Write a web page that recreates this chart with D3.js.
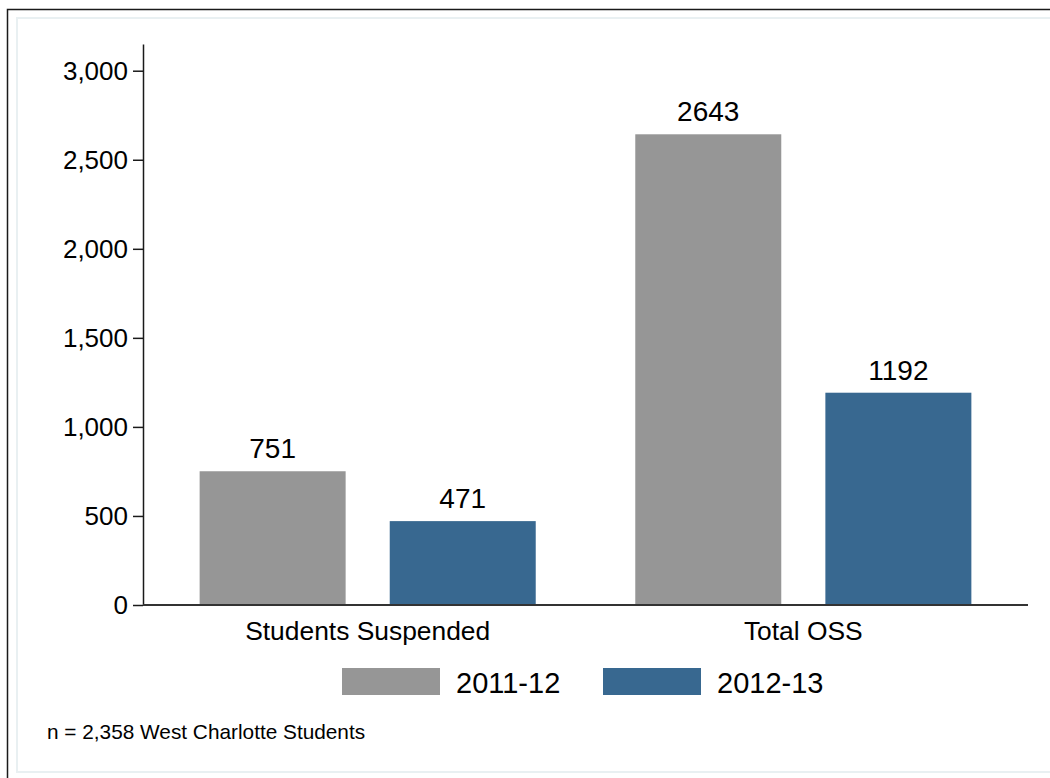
<!DOCTYPE html>
<html>
<head>
<meta charset="utf-8">
<script src="https://cdn.jsdelivr.net/npm/d3@7"></script>
<style>
  body { margin: 0; background: #fff; }
  text { font-family: "Liberation Sans", Arial, sans-serif; fill: #000; }
</style>
</head>
<body>
<div id="chart"></div>
<script>
// data
var categories = ['Students Suspended', 'Total OSS'];
var years = ['2011-12', '2012-13'];
var values2011 = [751, 2643];
var values2012 = [471, 1192];
var yTicks = [0, 500, 1000, 1500, 2000, 2500, 3000];
var note = 'n = 2,358 West Charlotte Students';

var colors = ['#969696', '#386890'];

var svgWidth = 1050, svgHeight = 778;

var svg = d3.select('#chart').append('svg')
    .attr('width', svgWidth)
    .attr('height', svgHeight);

// frame borders
svg.append('rect')
    .attr('x', 7.5).attr('y', 9.5)
    .attr('width', 1100).attr('height', 800)
    .attr('fill', 'none')
    .attr('stroke', '#1a1a1a')
    .attr('stroke-width', 1.5);

svg.append('rect')
    .attr('x', 17).attr('y', 18)
    .attr('width', 1100).attr('height', 754)
    .attr('fill', 'none')
    .attr('stroke', '#e9f0f2')
    .attr('stroke-width', 2);

// chart area
var plotLeft = 143, plotRight = 1028, plotTop = 44, plotBottom = 605;

var rows = categories.map(function (c, i) {
    return { cat: c, vals: [values2011[i], values2012[i]] };
});

var x0 = d3.scaleBand()
    .domain(categories)
    .range([plotLeft, plotRight])
    .paddingInner(0.2285)
    .paddingOuter(0.13);

var x1 = d3.scaleBand()
    .domain(years)
    .range([0, x0.bandwidth()])
    .paddingInner(0.232)
    .paddingOuter(0);

var y = d3.scaleLinear()
    .domain([0, 3150])
    .range([plotBottom, plotTop]);

// bars
var groups = svg.selectAll('.grp')
    .data(rows)
    .enter()
    .append('g')
    .attr('class', 'grp')
    .attr('transform', d => `translate(${x0(d.cat)}, 0)`);

groups.selectAll('rect')
    .data(d => d.vals.map((v, j) => ({ year: years[j], v: v, j: j })))
    .enter()
    .append('rect')
    .attr('x', d => x1(d.year))
    .attr('y', d => y(d.v))
    .attr('width', x1.bandwidth())
    .attr('height', d => y(0) - y(d.v))
    .attr('fill', d => colors[d.j]);

// value labels
groups.selectAll('.val')
    .data(d => d.vals.map((v, j) => ({ year: years[j], v: v })))
    .enter()
    .append('text')
    .attr('class', 'val')
    .attr('x', d => x1(d.year) + x1.bandwidth() / 2)
    .attr('y', d => y(d.v) - 13)
    .attr('text-anchor', 'middle')
    .style('font-size', '28px')
    .text(d => d.v);

// y axis
var leftAxis = d3.axisLeft(y)
    .tickValues(yTicks)
    .tickFormat(d3.format(','))
    .tickSize(10)
    .tickSizeOuter(0)
    .tickPadding(5);

var yAxisG = svg.append('g')
    .attr('transform', `translate(${plotLeft}, 0)`)
    .call(leftAxis);

yAxisG.select('.domain').attr('stroke', '#1a1a1a').attr('stroke-width', 1.5);
yAxisG.selectAll('.tick line').attr('stroke', '#1a1a1a').attr('stroke-width', 1.5);
yAxisG.selectAll('.tick text')
    .style('font-size', '26px')
    .style('font-family', '"Liberation Sans", Arial, sans-serif')
    .attr('fill', '#000');

// x axis line
var bottomAxis = d3.axisBottom(x0).tickSize(0).tickSizeOuter(0).tickPadding(16);
var xAxisG = svg.append('g')
    .attr('transform', `translate(0, ${plotBottom})`)
    .call(bottomAxis);

xAxisG.select('.domain')
    .attr('d', `M${plotLeft},0H${plotRight}`)
    .attr('stroke', '#333')
    .attr('stroke-width', 2);
xAxisG.selectAll('.tick text')
    .style('font-size', '26.4px')
    .style('font-family', '"Liberation Sans", Arial, sans-serif')
    .attr('fill', '#000');

// legend
var legendX = [342, 603];
var legend = svg.selectAll('.legend')
    .data(years)
    .enter()
    .append('g')
    .attr('class', 'legend')
    .attr('transform', (d, i) => `translate(${legendX[i]}, 668)`);

legend.append('rect')
    .attr('width', 98)
    .attr('height', 27)
    .attr('fill', (d, i) => colors[i]);

legend.append('text')
    .attr('x', 114)
    .attr('y', 25)
    .style('font-size', '29px')
    .text(d => d);

// note
svg.append('text')
    .attr('x', 47)
    .attr('y', 739)
    .style('font-size', '20.8px')
    .text(note);
</script>
</body>
</html>
